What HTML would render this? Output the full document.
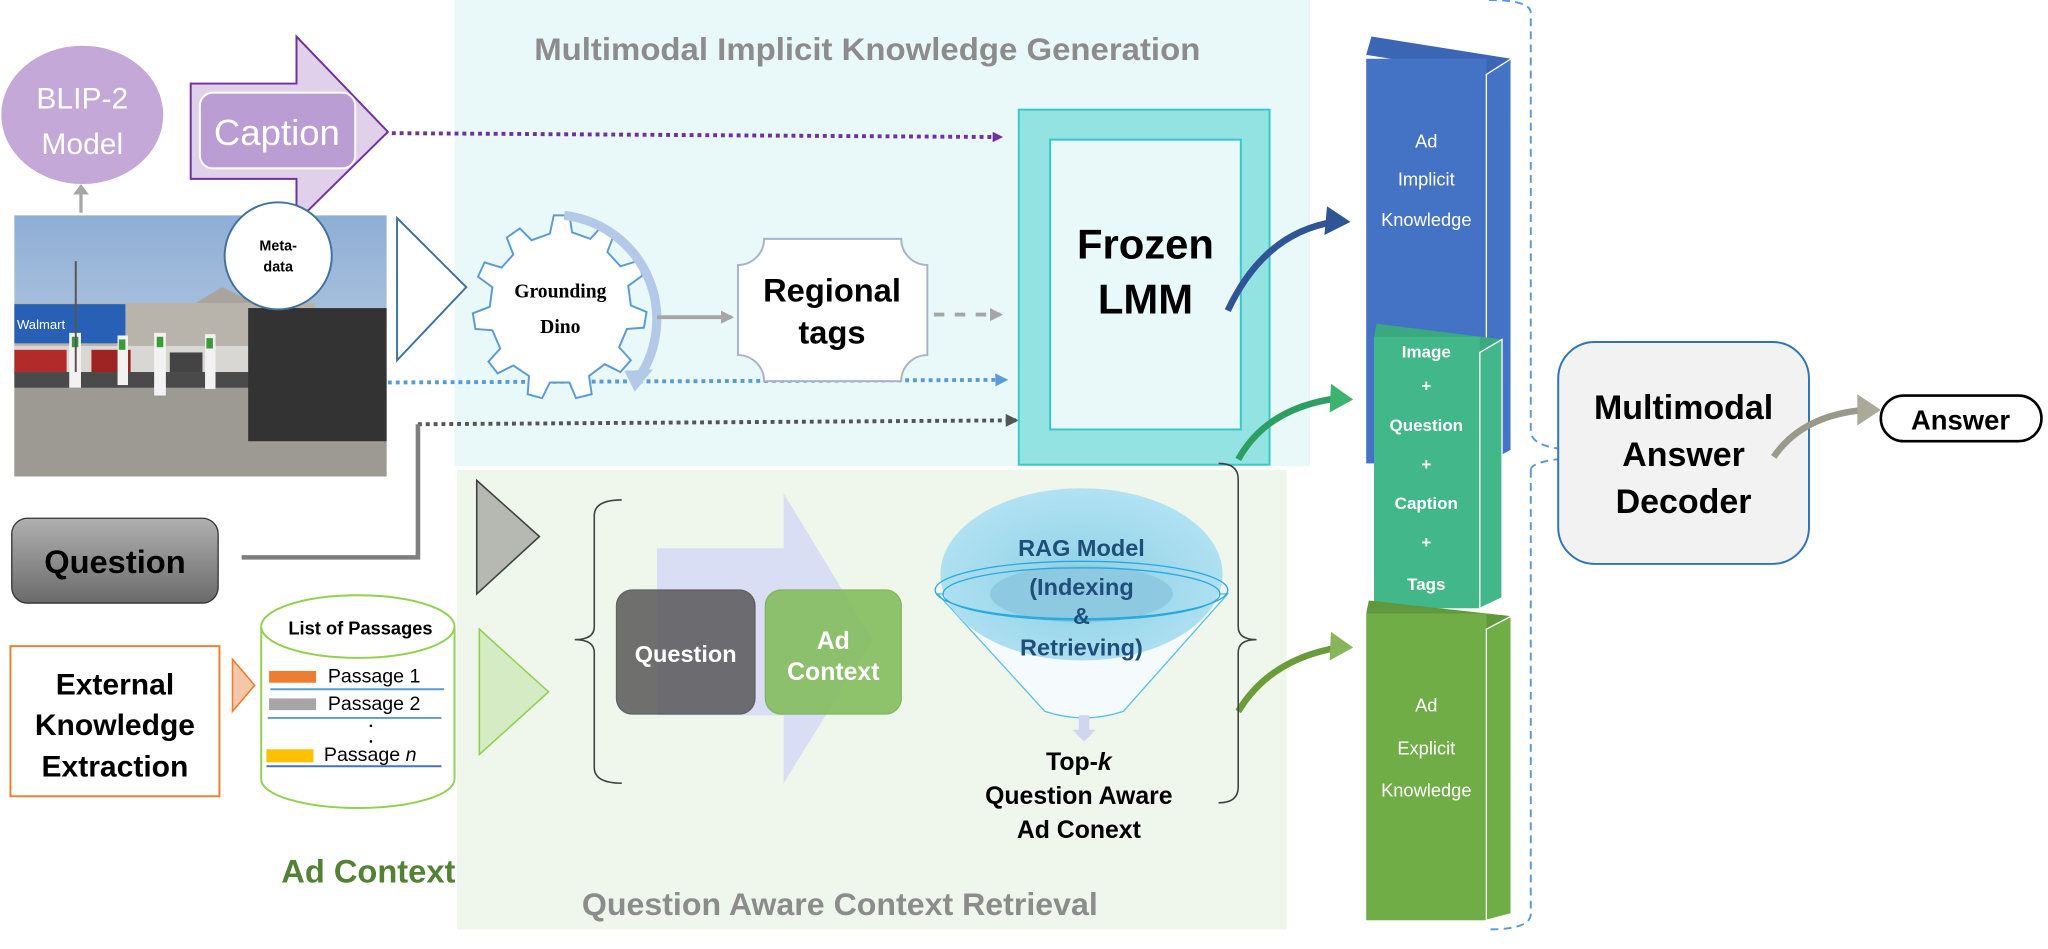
<!DOCTYPE html>
<html><head><meta charset="utf-8">
<style>
html,body{margin:0;padding:0;background:#fff;}
svg{display:block;}
text{font-family:"Liberation Sans",sans-serif;}
</style></head>
<body>
<svg width="2048" height="949" viewBox="0 0 1568 727" preserveAspectRatio="none" xmlns="http://www.w3.org/2000/svg">
<defs>
<marker id="mp" markerWidth="8" markerHeight="8" refX="6" refY="4" orient="auto" markerUnits="userSpaceOnUse"><path d="M0,0 L8,4 L0,8Z" fill="#7030a0"/></marker>
<marker id="mb" markerWidth="10" markerHeight="10" refX="8" refY="5" orient="auto" markerUnits="userSpaceOnUse"><path d="M0,0 L10,5 L0,10Z" fill="#5b9bd5"/></marker>
<marker id="md" markerWidth="10" markerHeight="10" refX="8" refY="5" orient="auto" markerUnits="userSpaceOnUse"><path d="M0,0 L10,5 L0,10Z" fill="#555"/></marker>
<marker id="mg" markerWidth="10" markerHeight="10" refX="8" refY="5" orient="auto" markerUnits="userSpaceOnUse"><path d="M0,0 L10,5 L0,10Z" fill="#a6a6a6"/></marker>
<linearGradient id="qg" x1="0" y1="0" x2="0" y2="1"><stop offset="0" stop-color="#b0b0b0"/><stop offset="1" stop-color="#6a6a6a"/></linearGradient>
<linearGradient id="sky" x1="0" y1="0" x2="0" y2="1"><stop offset="0" stop-color="#8eaed6"/><stop offset="1" stop-color="#d3dce8"/></linearGradient>
<radialGradient id="rag" cx="0.5" cy="0.55" r="0.6"><stop offset="0" stop-color="#8ecfe6"/><stop offset="1" stop-color="#b4e4f3"/></radialGradient>
</defs>

<rect x="348" y="0" width="655" height="357" fill="#e9f8f9"/>
<rect x="350" y="360" width="635" height="352" fill="#eff6ec"/>
<text x="664" y="46" font-size="24" font-weight="bold" fill="#8c8c8c" text-anchor="middle" textLength="510" lengthAdjust="spacingAndGlyphs">Multimodal Implicit Knowledge Generation</text>
<text x="643" y="701" font-size="24" font-weight="bold" fill="#8c8c8c" text-anchor="middle" textLength="395" lengthAdjust="spacingAndGlyphs">Question Aware Context Retrieval</text>

<ellipse cx="63" cy="88" rx="62" ry="53" fill="#c3a8d8"/>
<text x="63" y="83" font-size="23" fill="#fff" text-anchor="middle">BLIP-2</text>
<text x="63" y="118" font-size="23" fill="#fff" text-anchor="middle">Model</text>
<line x1="62" y1="163" x2="62" y2="148" stroke="#a6a6a6" stroke-width="2.5"/>
<path d="M56,149 L62,141 L68,149Z" fill="#a6a6a6"/>

<g>
<rect x="11" y="165" width="285" height="200" fill="url(#sky)"/>
<rect x="11" y="232" width="230" height="55" fill="#b8b4ab"/>
<path d="M150,232 L170,220 L195,232Z" fill="#a9a59c"/>
<rect x="11" y="233" width="85" height="30" fill="#2760b5"/>
<text x="13" y="252" font-size="10" fill="#fff">Walmart</text>
<rect x="11" y="265" width="230" height="25" fill="#d9d7d3"/>
<rect x="11" y="268" width="40" height="18" fill="#b22a2a"/>
<rect x="70" y="268" width="30" height="18" fill="#9e2424"/>
<rect x="130" y="270" width="25" height="15" fill="#444"/>
<rect x="11" y="285" width="285" height="80" fill="#9d9993"/>
<rect x="11" y="285" width="220" height="12" fill="#4a4a4a"/>
<rect x="190" y="236" width="106" height="102" fill="#333"/>
<rect x="53" y="255" width="9" height="42" fill="#f2f2f2"/><rect x="55" y="258" width="5" height="8" fill="#3a9a3a"/>
<rect x="90" y="257" width="8" height="38" fill="#f2f2f2"/><rect x="91" y="260" width="5" height="8" fill="#3a9a3a"/>
<rect x="118" y="255" width="9" height="48" fill="#f2f2f2"/><rect x="120" y="258" width="5" height="8" fill="#3a9a3a"/>
<rect x="157" y="256" width="8" height="42" fill="#f2f2f2"/><rect x="158" y="259" width="5" height="8" fill="#3a9a3a"/>
<line x1="58" y1="200" x2="58" y2="285" stroke="#555" stroke-width="1.5"/>
</g>

<path d="M146,64 L227,64 L227,28 L297,101 L227,170 L227,137 L146,137Z" fill="#e0d0ea" stroke="#7030a0" stroke-width="1.5"/>
<rect x="153" y="71" width="119" height="58" rx="10" fill="#b99dd3" stroke="#fff" stroke-width="1.5"/>
<text x="212" y="111" font-size="28" fill="#fff" text-anchor="middle">Caption</text>

<circle cx="213" cy="196" r="41" fill="#fff" stroke="#41719c" stroke-width="1.5"/>
<text x="213" y="192" font-size="11" font-weight="bold" text-anchor="middle">Meta-</text>
<text x="213" y="208" font-size="11" font-weight="bold" text-anchor="middle">data</text>

<line x1="300" y1="102" x2="766" y2="105" stroke="#7030a0" stroke-width="3" stroke-dasharray="3,3" marker-end="url(#mp)"/>
<line x1="297" y1="293" x2="770" y2="291" stroke="#5b9bd5" stroke-width="3" stroke-dasharray="3,3" marker-end="url(#mb)"/>
<line x1="320" y1="325" x2="778" y2="322" stroke="#555" stroke-width="3" stroke-dasharray="3,3" marker-end="url(#md)"/>
<polyline points="320,325 320,427 185,427" fill="none" stroke="#7f7f7f" stroke-width="3.5"/>

<path d="M304,167 L304,276 L357,220Z" fill="#fff" stroke="#41719c" stroke-width="1.5"/>

<path fill="#fff" stroke="#5b9bd5" stroke-width="1.5" d="
M424,165 L436,165 L438,178 L452,183 L461,173 L470,180 L465,193 L475,204 L488,200 L492,211 L481,219 L483,234 L495,239 L493,251 L480,252 L474,266 L483,276 L475,285 L463,279 L451,288 L453,302 L441,305 L436,293 L421,293 L415,305 L404,302 L405,288 L393,280 L381,286 L374,277 L383,267 L377,253 L364,252 L362,240 L375,235 L377,220 L366,212 L371,201 L384,205 L393,195 L388,182 L398,175 L407,184 L421,179Z"/>
<text x="429" y="228" font-size="15" font-weight="bold" text-anchor="middle" style="font-family:'Liberation Serif',serif">Grounding</text>
<text x="429" y="255" font-size="15" font-weight="bold" text-anchor="middle" style="font-family:'Liberation Serif',serif">Dino</text>
<path d="M432,165 A80,80 0 0 1 490,288" fill="none" stroke="#b4c8e8" stroke-width="7"/>
<path d="M478,284 L500,283 L486,300Z" fill="#b4c8e8"/>

<line x1="503" y1="243" x2="560" y2="243" stroke="#a6a6a6" stroke-width="3" marker-end="url(#mg)"/>

<path d="M585,183 L690,183 A20,20 0 0 0 710,203 L710,272 A20,20 0 0 0 690,292 L585,292 A20,20 0 0 0 565,272 L565,203 A20,20 0 0 0 585,183Z" fill="#fff" stroke="#a9b4c8" stroke-width="1.5"/>
<text x="637" y="231" font-size="25" font-weight="bold" text-anchor="middle">Regional</text>
<text x="637" y="263" font-size="25" font-weight="bold" text-anchor="middle">tags</text>
<line x1="715" y1="241" x2="766" y2="241" stroke="#a6a6a6" stroke-width="3" stroke-dasharray="8,8" marker-end="url(#mg)"/>

<rect x="780" y="84" width="192" height="272" fill="#93e3e3" stroke="#35c8cf" stroke-width="1.5"/>
<rect x="804" y="107" width="146" height="222" fill="#e9f8f9" stroke="#35c8cf" stroke-width="1.5"/>
<text x="877" y="198" font-size="32" font-weight="bold" text-anchor="middle">Frozen</text>
<text x="877" y="240" font-size="32" font-weight="bold" text-anchor="middle">LMM</text>

<path d="M940,238 Q968,178 1022,170" fill="none" stroke="#2f5597" stroke-width="5"/>
<path d="M1016,158 L1034,170 L1014,180Z" fill="#2f5597"/>
<path d="M948,352 Q970,312 1025,305" fill="none" stroke="#2e9e63" stroke-width="5"/>
<path d="M1019,294 L1036,306 L1018,316Z" fill="#3cb371"/>
<path d="M948,545 Q972,505 1025,496" fill="none" stroke="#6a9c3a" stroke-width="5"/>
<path d="M1019,484 L1036,496 L1018,506Z" fill="#8ab45a"/>

<path d="M1050,28 L1157,45 L1140,57 L1046,42Z" fill="#3a66b5"/>
<rect x="1046" y="45" width="92" height="310" fill="#4472c4"/>
<path d="M1138,57 L1157,45 L1157,345 L1138,355Z" fill="#4472c4" stroke="#fff" stroke-width="1"/>
<text x="1092" y="113" font-size="14" fill="#fff" text-anchor="middle">Ad</text>
<text x="1092" y="142" font-size="14" fill="#fff" text-anchor="middle">Implicit</text>
<text x="1092" y="173" font-size="14" fill="#fff" text-anchor="middle">Knowledge</text>

<path d="M1054,248 L1150,260 L1133,270 L1052,258Z" fill="#3aa97f"/>
<rect x="1052" y="258" width="81" height="208" fill="#42b88a"/>
<path d="M1133,270 L1150,260 L1150,458 L1133,466Z" fill="#42b88a" stroke="#fff" stroke-width="1"/>
<g font-size="13" font-weight="bold" fill="#fff" text-anchor="middle">
<text x="1092" y="274">Image</text>
<text x="1092" y="300">+</text>
<text x="1092" y="330">Question</text>
<text x="1092" y="360">+</text>
<text x="1092" y="390">Caption</text>
<text x="1092" y="420">+</text>
<text x="1092" y="452">Tags</text>
</g>

<path d="M1048,460 L1157,472 L1140,482 L1046,470Z" fill="#62983c"/>
<rect x="1046" y="470" width="92" height="235" fill="#70ad47"/>
<path d="M1138,482 L1157,472 L1157,700 L1138,705Z" fill="#70ad47" stroke="#fff" stroke-width="1"/>
<text x="1092" y="545" font-size="14" fill="#fff" text-anchor="middle">Ad</text>
<text x="1092" y="578" font-size="14" fill="#fff" text-anchor="middle">Explicit</text>
<text x="1092" y="610" font-size="14" fill="#fff" text-anchor="middle">Knowledge</text>

<path d="M1140,0 Q1172,0 1172,10 L1172,330 Q1172,345 1215,345 M1172,360 Q1172,352 1215,350 M1172,360 L1172,700 Q1172,712 1140,712" fill="none" stroke="#5b9bd5" stroke-width="1.5" stroke-dasharray="6,4"/>

<rect x="1193" y="262" width="192" height="170" rx="28" fill="#f2f2f2" stroke="#2e75b6" stroke-width="1.5"/>
<text x="1289" y="321" font-size="26" font-weight="bold" text-anchor="middle">Multimodal</text>
<text x="1289" y="357" font-size="26" font-weight="bold" text-anchor="middle">Answer</text>
<text x="1289" y="393" font-size="26" font-weight="bold" text-anchor="middle">Decoder</text>
<path d="M1358,350 Q1380,318 1428,314" fill="none" stroke="#9a9a8c" stroke-width="5"/>
<path d="M1422,302 L1440,314 L1422,326Z" fill="#aaa99a"/>
<rect x="1440" y="303" width="123" height="35" rx="17.5" fill="#fff" stroke="#000" stroke-width="2"/>
<text x="1501" y="329" font-size="21" font-weight="bold" text-anchor="middle">Answer</text>

<rect x="9" y="397" width="158" height="65" rx="12" fill="url(#qg)" stroke="#333" stroke-width="1"/>
<text x="88" y="439" font-size="25" font-weight="bold" text-anchor="middle">Question</text>

<rect x="8" y="495" width="160" height="115" fill="#fff" stroke="#ed7d31" stroke-width="1.5"/>
<text x="88" y="532" font-size="23" font-weight="bold" text-anchor="middle">External</text>
<text x="88" y="563" font-size="23" font-weight="bold" text-anchor="middle">Knowledge</text>
<text x="88" y="595" font-size="23" font-weight="bold" text-anchor="middle">Extraction</text>
<path d="M178,505 L178,545 L195,525Z" fill="#f4c7a9" stroke="#ed7d31" stroke-width="1.2"/>

<path d="M200,480 L200,597 A74,22 0 0 0 348,597 L348,480" fill="#fff" stroke="#92d050" stroke-width="1.5"/>
<ellipse cx="274" cy="480" rx="74" ry="24" fill="#fff" stroke="#92d050" stroke-width="1.5"/>
<text x="276" y="486" font-size="14" font-weight="bold" text-anchor="middle">List of Passages</text>
<rect x="206" y="514" width="36" height="9" fill="#ed7d31"/>
<text x="251" y="523" font-size="15">Passage 1</text>
<line x1="207" y1="528" x2="340" y2="528" stroke="#5b9bd5" stroke-width="1.5"/>
<rect x="206" y="535" width="36" height="9" fill="#a6a6a6"/>
<text x="251" y="544" font-size="15">Passage 2</text>
<line x1="205" y1="550" x2="338" y2="550" stroke="#5b9bd5" stroke-width="1.5"/>
<circle cx="284" cy="556" r="1" fill="#000"/><circle cx="284" cy="568" r="1" fill="#000"/>
<rect x="204" y="574" width="36" height="10" fill="#ffc000"/>
<text x="248" y="583" font-size="15">Passage <tspan font-style="italic">n</tspan></text>
<line x1="204" y1="587" x2="338" y2="587" stroke="#4472c4" stroke-width="1.5"/>
<text x="282" y="676" font-size="25" font-weight="bold" fill="#538135" text-anchor="middle">Ad Context</text>

<path d="M365,368 L365,455 L413,411Z" fill="#b5b9b1" stroke="#404040" stroke-width="1.2"/>
<path d="M367,482 L367,578 L420,530Z" fill="#d4ebc4" stroke="#92d050" stroke-width="1.2"/>

<path d="M476,383 Q455,383 455,395 L455,480 Q455,490 440,490 Q455,490 455,500 L455,588 Q455,600 476,600" fill="none" stroke="#404040" stroke-width="1.2"/>

<path d="M503,420 L600,420 L600,378 L668,490 L600,600 L600,548 L503,548Z" fill="#d6dcf5" opacity="0.9"/>
<rect x="472" y="452" width="106" height="95" rx="12" fill="#595959" opacity="0.85" stroke="#4a4a4a"/>
<text x="525" y="507" font-size="18" font-weight="bold" fill="#fff" text-anchor="middle">Question</text>
<rect x="586" y="452" width="104" height="95" rx="12" fill="#7fbb55" opacity="0.85" stroke="#70ad47"/>
<text x="638" y="497" font-size="19" font-weight="bold" fill="#fff" text-anchor="middle">Ad</text>
<text x="638" y="521" font-size="19" font-weight="bold" fill="#fff" text-anchor="middle">Context</text>

<path d="M718,455 L800,545 Q830,555 860,545 L940,455Z" fill="#f5fafc" stroke="#5bbfe8" stroke-width="1"/>
<ellipse cx="828" cy="440" rx="108" ry="66" fill="url(#rag)"/>
<ellipse cx="828" cy="455" rx="70" ry="22" fill="#8ec9e2"/>
<ellipse cx="828" cy="452" rx="112" ry="22" fill="none" stroke="#29a8e0" stroke-width="1"/>
<ellipse cx="828" cy="455" rx="106" ry="20" fill="none" stroke="#29a8e0" stroke-width="1"/>
<g font-size="18" font-weight="bold" fill="#1f4e79" text-anchor="middle">
<text x="828" y="426">RAG Model</text>
<text x="828" y="456">(Indexing</text>
<text x="828" y="478">&amp;</text>
<text x="828" y="502">Retrieving)</text>
</g>
<rect x="826" y="548" width="8" height="12" fill="#d0d6f0"/>
<path d="M821,559 L839,559 L830,568Z" fill="#d0d6f0"/>
<g font-size="19" font-weight="bold" text-anchor="middle">
<text x="826" y="590">Top-<tspan font-style="italic">k</tspan></text>
<text x="826" y="616">Question Aware</text>
<text x="826" y="642">Ad Conext</text>
</g>

<path d="M933,355 Q948,355 948,367 L948,480 Q948,490 962,490 Q948,490 948,500 L948,603 Q948,615 933,615" fill="none" stroke="#404040" stroke-width="1.2"/>
</svg>
</body></html>
